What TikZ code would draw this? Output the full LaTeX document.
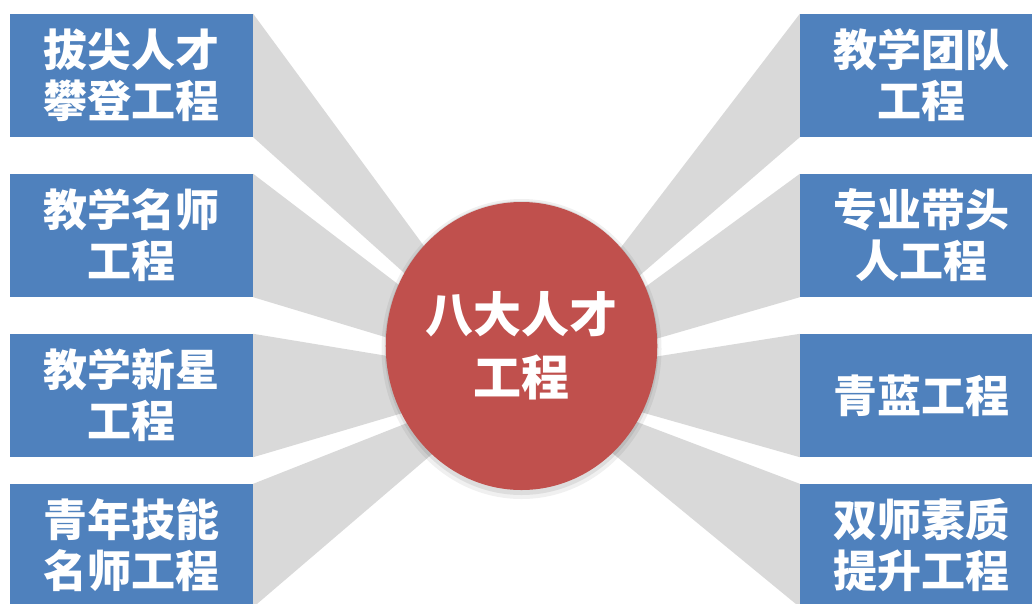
\documentclass[tikz,border=0pt]{standalone}
\usepackage{fontspec}
\newfontfamily\cjk{Noto Sans CJK SC}
\usetikzlibrary{shapes.geometric,backgrounds}
\definecolor{boxblue}{HTML}{4F81BD}
\definecolor{hubred}{HTML}{C0504D}
\definecolor{raygray}{HTML}{D9D9D9}
\tikzset{
  item/.style={fill=boxblue, text=white, minimum width=243pt, minimum height=123pt,
    inner sep=0pt, align=center, font=\cjk\bfseries\fontsize{44}{51}\selectfont},
  hub/.style={ellipse, fill=hubred, text=white, minimum width=269pt, minimum height=288pt,
    inner sep=0pt, align=center, font=\cjk\bfseries\fontsize{48}{63}\selectfont},
  ray/.style={fill=raygray}
}
\begin{document}
\begin{tikzpicture}[x=1pt,y=-1pt]
    \useasboundingbox (0,0) rectangle (1032,603);
    \clip (0,0) rectangle (1032,603);

    \node[item] (L1) at (131.5,75.5) {拔尖人才\\攀登工程};
    \node[item] (L2) at (131.5,235.5) {教学名师\\工程};
    \node[item] (L3) at (131.5,395.5) {教学新星\\工程};
    \node[item] (L4) at (131.5,545.5) {青年技能\\名师工程};

    \node[item] (R1) at (921.5,75.5) {教学团队\\工程};
    \node[item] (R2) at (921.5,235.5) {专业带头\\人工程};
    \node[item] (R3) at (921.5,395.5) {青蓝工程};
    \node[item] (R4) at (921.5,545.5) {双师素质\\提升工程};

    \coordinate (fan) at (521,378);

    % soft shadow under the hub
    \fill[black, opacity=.06] (521.5,349) ellipse (140 and 150);
    \fill[black, opacity=.08] (521.5,348) ellipse (137 and 147);
    \node[hub] (hub) at (521.5,346) {八大人才\\工程};

    \begin{scope}[on background layer]
      \foreach \b in {L1,L2,L3,L4}
        \fill[ray] (\b.north east) -- (fan) -- (\b.south east) -- cycle;
      \foreach \b in {R1,R2,R3,R4}
        \fill[ray] (\b.north west) -- (fan) -- (\b.south west) -- cycle;
    \end{scope}
\end{tikzpicture}
\end{document}
